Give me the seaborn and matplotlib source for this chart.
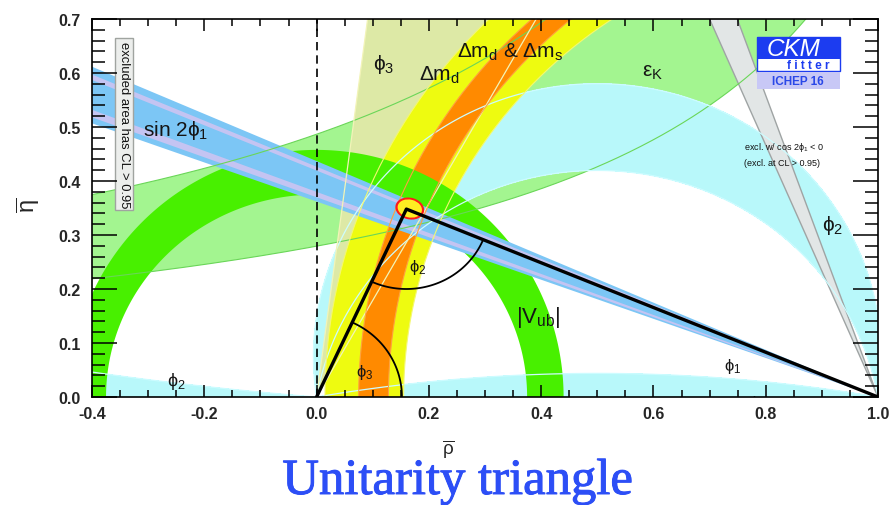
import numpy as np
import pandas as pd
import seaborn as sns
import matplotlib
matplotlib.use("Agg")
import matplotlib.pyplot as plt
import matplotlib.patheffects as pe
from matplotlib.patches import Polygon, Ellipse, Rectangle
from matplotlib.ticker import MultipleLocator, FormatStrFormatter

# ---------------- fit result ----------------
apex_rho = 0.160
apex_eta = 0.348
apex_cl_center = [0.166, 0.349]
apex_cl_halfwidth = [0.026, 0.020]

# ---------------- constraint bands ----------------
sin2phi1_deg = [19.9, 23.6]                      # seen from (1, 0)
sin2phi1_stripes_deg = [[20.3, 20.8], [22.75, 23.1]]
cos2phi1_excl_deg = [66.8, 70.3]                 # mirror solution, excluded
phi3_deg = [60.8, 82.6]                          # seen from (0, 0)
phi2_deg = [81.5, 100.0]                         # angle at the apex
phi2_low_deg = 4.7
phi2_high_deg = 170.0
vub_r = [0.375, 0.440]
vub_stretch = [1.0, 1.04]
dmd_r = [0.845, 0.985]
dmd_stretch = [1.0, 1.0]
dms_r = [0.872, 0.925]
dms_stretch = [1.03, 1.015]
epsk_low = [1.45, 0.405]                         # eta = k / (a - rho)
epsk_high = [1.34, 0.652]

# ---------------- labels ----------------
label_text = [r'$\mathrm{sin\ 2}\phi_{1}$', r'$\phi_{3}$', r'$\Delta\mathrm{m}_{\mathrm{d}}$',
              r'$\Delta\mathrm{m}_{\mathrm{d}}$ & $\Delta\mathrm{m}_{\mathrm{s}}$',
              r'$\varepsilon_{\mathrm{K}}$', r'$\phi_{2}$', r'$|\mathrm{V}_{\mathrm{ub}}|$',
              r'$\phi_{2}$', r'$\phi_{3}$', r'$\phi_{1}$', r'$\phi_{2}$']
label_rho = [-0.31, 0.100, 0.183, 0.251, 0.580, 0.900, 0.356, 0.165, 0.071, 0.726, -0.267]
label_eta = [0.496, 0.617, 0.598, 0.641, 0.602, 0.320, 0.150, 0.241, 0.048, 0.059, 0.030]
label_size = [15, 15, 15, 15, 15, 15, 16, 12, 12, 12, 13]

x_ticks_major = 0.2
x_ticks_minor = 0.05
y_ticks_major = 0.1
y_ticks_minor = 0.02

# ---------------- colours ----------------
c_epsk = '#a3f590'
c_vub = '#48f000'
c_phi2 = '#b8f8fa'
c_phi3 = '#dde9a6'
c_dmd = '#eefb10'
c_dms = '#ff8a00'
c_blue = '#7cc6f5'
c_lav = '#c4c4f2'
c_gray = '#e2e6e6'

sns.set_style('ticks')
plt.rcParams['font.family'] = ['Liberation Sans', 'DejaVu Sans']
plt.rcParams['mathtext.fontset'] = 'custom'
plt.rcParams['mathtext.rm'] = 'Liberation Sans'
plt.rcParams['mathtext.it'] = 'Liberation Sans'
plt.rcParams['mathtext.bf'] = 'Liberation Sans:bold'
plt.rcParams['mathtext.sf'] = 'Liberation Sans'
plt.rcParams['axes.unicode_minus'] = False

fig = plt.figure(figsize=(8.89, 5.06), dpi=100)
ax = fig.add_axes([92 / 889, 1 - 398 / 506, (878 - 92) / 889, (398 - 20) / 506])
ax.set_xlim(-0.4, 1.0)
ax.set_ylim(0.0, 0.7)
ax.set_facecolor('white')


def ring(cx, radii, stretch, n=500):
    t = np.linspace(0, np.pi, n)
    outer = np.c_[cx + radii[1] * np.cos(t), stretch[1] * radii[1] * np.sin(t)]
    tt = t[::-1]
    inner = np.c_[cx + radii[0] * np.cos(tt), stretch[0] * radii[0] * np.sin(tt)]
    return np.vstack([outer, inner])


def wedge(x0, y0, angles, sign, length=3.0):
    a0, a1 = np.radians(angles)
    return np.array([[x0, y0],
                     [x0 + sign * length * np.cos(a0), y0 + length * np.sin(a0)],
                     [x0 + sign * length * np.cos(a1), y0 + length * np.sin(a1)]])


# epsilon_K hyperbolic band
rho_line = np.linspace(-0.4, 1.0, 700)
eps_lo = epsk_low[1] / (epsk_low[0] - rho_line)
eps_hi = np.where(rho_line < epsk_high[0] - 0.01,
                  epsk_high[1] / np.maximum(epsk_high[0] - rho_line, 0.01), 5.0)
ax.fill_between(rho_line, eps_lo, eps_hi, color=c_epsk, lw=0, zorder=1)

# phi2 (alpha) regions from the angle at (rho, eta)
R, E = np.meshgrid(np.linspace(-0.4, 1.0, 1401), np.linspace(0.0002, 0.7, 701))
A = np.degrees(np.arctan2(E, -R * (1 - R) + E ** 2))
ax.contourf(R, E, A, levels=phi2_deg, colors=[c_phi2], zorder=2)
ax.contourf(R, E, A, levels=[0, phi2_low_deg], colors=[c_phi2], zorder=2)
ax.contourf(R, E, A, levels=[phi2_high_deg, 180], colors=[c_phi2], zorder=2)

# phi3 (gamma) wedge
ax.add_patch(Polygon(wedge(0, 0, phi3_deg, 1), closed=True, fc=c_phi3, ec='none', zorder=3))

# Delta m_d and Delta m_d & Delta m_s rings around (1, 0)
ax.add_patch(Polygon(ring(1.0, dmd_r, dmd_stretch), closed=True, fc=c_dmd, ec='none', zorder=4))
ax.add_patch(Polygon(ring(1.0, dms_r, dms_stretch), closed=True, fc=c_dms, ec='none', zorder=5))

# |Vub| ring around the origin
ax.add_patch(Polygon(ring(0.0, vub_r, vub_stretch), closed=True, fc=c_vub, ec='none', zorder=6))

# sin 2phi1 band
ax.add_patch(Polygon(wedge(1, 0, sin2phi1_deg, -1), closed=True, fc=c_blue, ec='none', zorder=7))
for s in sin2phi1_stripes_deg:
    ax.add_patch(Polygon(wedge(1, 0, s, -1), closed=True, fc=c_lav, ec='none', zorder=7))

# excluded cos 2phi1 < 0 solution
ax.add_patch(Polygon(wedge(1, 0, cos2phi1_excl_deg, -1), closed=True, fc=c_gray,
                     ec='#9fa4a4', lw=1.0, zorder=8))

# band outlines
ax.plot(rho_line, eps_lo, color='#6ad658', lw=0.8, zorder=9)
ax.plot(rho_line, eps_hi, color='#6ad658', lw=0.8, zorder=9)
ax.contour(R, E, A, levels=[phi2_low_deg, phi2_deg[0], phi2_deg[1], phi2_high_deg],
           colors='#cdfcff', linewidths=0.9, zorder=9)
for a in phi3_deg:
    w = wedge(0, 0, [a, a], 1)
    ax.plot(w[:2, 0], w[:2, 1], color='#f2f4b8', lw=0.9, zorder=9)
t = np.linspace(0, np.pi, 400)
for radii, st, col in [(dmd_r, dmd_stretch, '#f4f870'), (dms_r, dms_stretch, '#ffa040')]:
    for r, s in zip(radii, st):
        ax.plot(1 + r * np.cos(t), s * r * np.sin(t), color=col, lw=0.8, zorder=9)

# rho = 0 reference line
ax.axvline(0.0, color='black', lw=1.2, ls=(0, (5, 3)), zorder=10)

# unitarity triangle
tri = pd.DataFrame({'rho': [0.0, apex_rho, 1.0], 'eta': [0.0, apex_eta, 0.0]})

# angle arcs
ang_apex = np.degrees(np.arctan2(apex_eta, apex_rho))
ang_b = np.degrees(np.arctan2(-apex_eta, 1 - apex_rho))
ts = np.radians(np.linspace(0, ang_apex, 100))
ax.plot(0.152 * np.cos(ts), 0.152 * np.sin(ts), color='black', lw=1.3, zorder=11)
ts = np.radians(np.linspace(180 + ang_apex, 360 + ang_b, 100))
ax.plot(apex_rho + 0.148 * np.cos(ts), apex_eta + 0.148 * np.sin(ts), color='black', lw=1.3, zorder=11)
ts = np.radians(np.linspace(180 + ang_b, 180, 100))
ax.plot(1 + 0.22 * np.cos(-ts), 0.22 * np.sin(-ts), color='black', lw=1.3, zorder=11)

# fit result contour at the apex
ax.add_patch(Ellipse(apex_cl_center, 2 * apex_cl_halfwidth[0], 2 * apex_cl_halfwidth[1],
                     angle=-15, fc='#ff1a1a', ec='none', zorder=12))
ax.add_patch(Ellipse(apex_cl_center, 2 * apex_cl_halfwidth[0] - 0.008, 2 * apex_cl_halfwidth[1] - 0.007,
                     angle=-15, fc='#ffee22', ec='none', zorder=12))
sns.lineplot(data=tri, x='rho', y='eta', sort=False, estimator=None, color='black',
             lw=2.4, ax=ax, zorder=12.5)

# labels
for txt, x, y, fs in zip(label_text, label_rho, label_eta, label_size):
    ax.text(x, y, txt, fontsize=fs, color='#151515', ha='left', va='center', zorder=13)

ax.text(-0.343, 0.506, 'excluded area has CL > 0.95', rotation=270, fontsize=9.4,
        ha='center', va='center', color='#111111', zorder=13,
        bbox=dict(boxstyle='square,pad=0.22', fc='#eceeec', ec='#a0a4a0', lw=1.0))
ax.text(0.762, 0.463, r'excl. w/ cos 2$\phi_{1}$ < 0', fontsize=6.5, ha='left', va='center',
        color='#111111', zorder=13)
ax.text(0.762, 0.435, '(excl. at CL > 0.95)', fontsize=6.5, ha='left', va='center',
        color='#111111', zorder=13)

# axes styling
ax.xaxis.set_major_locator(MultipleLocator(x_ticks_major))
ax.xaxis.set_minor_locator(MultipleLocator(x_ticks_minor))
ax.yaxis.set_major_locator(MultipleLocator(y_ticks_major))
ax.yaxis.set_minor_locator(MultipleLocator(y_ticks_minor))
ax.xaxis.set_major_formatter(FormatStrFormatter('%.1f'))
ax.yaxis.set_major_formatter(FormatStrFormatter('%.1f'))
ax.tick_params(which='both', direction='in', top=True, right=True, color='black', width=1.1)
ax.tick_params(axis='x', which='major', length=8.6, pad=6.5, labelsize=11.5)
ax.tick_params(axis='x', which='minor', length=5)
ax.tick_params(axis='y', which='major', length=18, pad=8, labelsize=11.5)
ax.tick_params(axis='y', which='minor', length=9.4)
for lab in ax.get_xticklabels() + ax.get_yticklabels():
    lab.set_fontweight('bold')
for sp in ax.spines.values():
    sp.set_visible(True)
    sp.set_color('black')
    sp.set_linewidth(1.2)
    sp.set_zorder(20)
ax.xaxis.set_zorder(20)
ax.yaxis.set_zorder(20)
ax.set_xlabel('')
ax.set_ylabel('')

fig.text(28 / 889, 1 - 205 / 506, r'$\overline{\eta}$', rotation=90, fontsize=17,
         ha='center', va='center')
fig.text(448 / 889, 1 - 449 / 506, r'$\overline{\rho}$', fontsize=13.5, ha='center', va='center')

# logo
def fig_rect(x0, y0, x1, y1, **kw):
    fig.add_artist(Rectangle((x0 / 889, 1 - y1 / 506), (x1 - x0) / 889, (y1 - y0) / 506,
                             transform=fig.transFigure, **kw))

fig_rect(757, 38, 840, 72, fc='white', ec='#1c3cf0', lw=1.0, zorder=30)
fig_rect(757, 38, 840, 60, fc='#1c3cf0', ec='none', zorder=31)
fig_rect(757, 73, 840, 90, fc='#c8c8f6', ec='none', zorder=30)
fig.text(794 / 889, 1 - 50 / 506, 'CKM', color='white', fontsize=17.5, style='italic',
         ha='center', va='center', zorder=32)
fig.text(808 / 889, 1 - 66 / 506, 'f i t t e r', color='#1c3cf0', fontsize=8.5, weight='bold',
         ha='center', va='center', zorder=32)
fig.text(798 / 889, 1 - 82 / 506, 'ICHEP 16', color='#2a48e8', fontsize=8.5, weight='bold',
         ha='center', va='center', zorder=32)

title = fig.text(458 / 889, 1 - 495 / 506, 'Unitarity triangle', color='#2c4ef6', fontsize=36.5,
                 family='Liberation Serif', ha='center', va='baseline')
title.set_path_effects([pe.Stroke(linewidth=0.7, foreground='#2c4ef6'), pe.Normal()])

fig.savefig('out.png', dpi=100)
